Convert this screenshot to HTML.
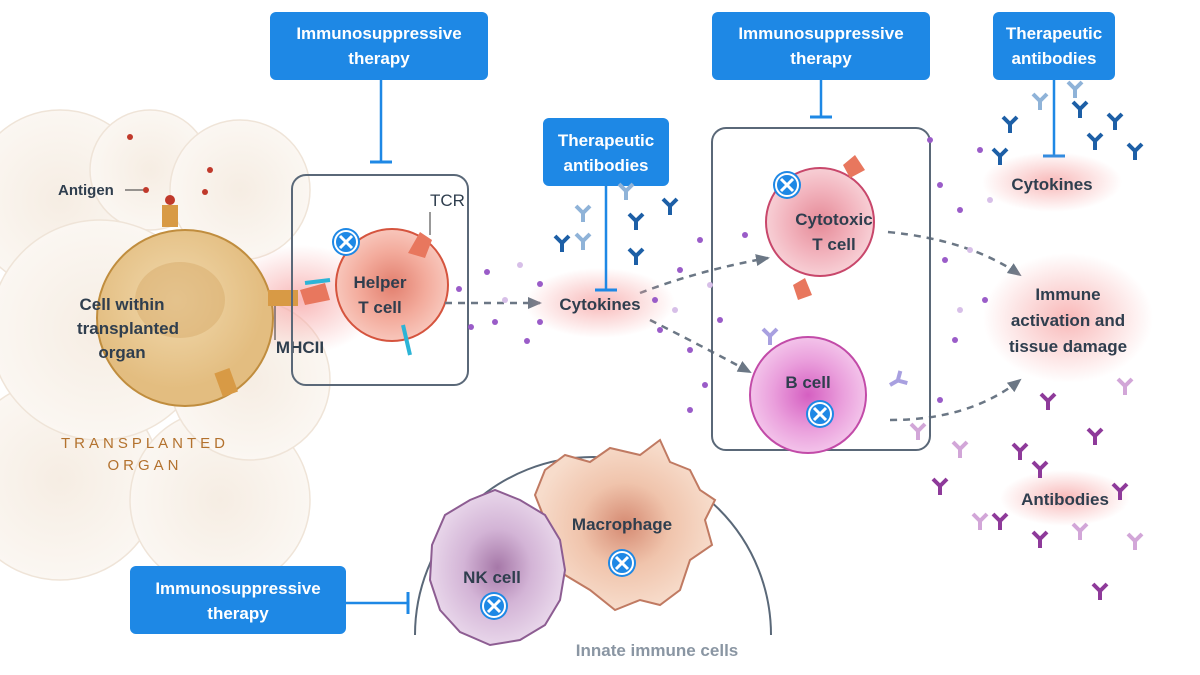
<!DOCTYPE html>
<html><head><meta charset="utf-8"><style>
html,body{margin:0;padding:0;background:#fff;}
svg{display:block;font-family:"Liberation Sans",sans-serif;}
.bt{fill:#fff;font-size:17px;font-weight:bold;text-anchor:middle;}
.lb{fill:#2f3e4e;font-size:17px;font-weight:bold;text-anchor:middle;}
</style></head><body>
<svg width="1200" height="675" viewBox="0 0 1200 675" xmlns="http://www.w3.org/2000/svg">
<defs>
<radialGradient id="glow"><stop offset="0" stop-color="#f7a7a7" stop-opacity=".8"/><stop offset="1" stop-color="#f7a7a7" stop-opacity="0"/></radialGradient>
<radialGradient id="org"><stop offset="0" stop-color="#f6ede3"/><stop offset="1" stop-color="#fbf7f2"/></radialGradient>
<radialGradient id="cell1" cx=".45" cy=".4"><stop offset="0" stop-color="#f1d9ad"/><stop offset="1" stop-color="#e3bd80"/></radialGradient>
<radialGradient id="helper" cx=".5" cy=".5"><stop offset="0" stop-color="#e27f6e"/><stop offset=".6" stop-color="#f3ab9c"/><stop offset="1" stop-color="#f8c6bb"/></radialGradient>
<radialGradient id="cyto"><stop offset="0" stop-color="#e58a97"/><stop offset=".6" stop-color="#f2b3bd"/><stop offset="1" stop-color="#f7cfd5"/></radialGradient>
<radialGradient id="bcell"><stop offset="0" stop-color="#d55fc1"/><stop offset=".6" stop-color="#ea9fdc"/><stop offset="1" stop-color="#f3c3ea"/></radialGradient>
<radialGradient id="mac"><stop offset="0" stop-color="#d58a72"/><stop offset=".5" stop-color="#f0c4ac"/><stop offset="1" stop-color="#f7dccb"/></radialGradient>
<radialGradient id="nk"><stop offset="0" stop-color="#a678a8"/><stop offset=".5" stop-color="#d3b4d6"/><stop offset="1" stop-color="#e8d6ea"/></radialGradient>
<marker id="ah" markerUnits="userSpaceOnUse" markerWidth="16" markerHeight="16" refX="12" refY="8" orient="auto"><path d="M0,2 L14,8 L0,14 Z" fill="#6b7785"/></marker>
<g id="xi"><circle r="14" fill="#1e88e5"/><circle r="11" fill="none" stroke="#fff" stroke-width="2"/><path d="M-6,-6 L6,6 M6,-6 L-6,6" stroke="#fff" stroke-width="3"/></g>
<g id="ab"><path d="M0,0 V-9 M0,-9 L-7,-16 M0,-9 L7,-16" stroke-width="4" fill="none"/></g>
</defs>

<!-- organ background -->
<g stroke="#efe4d8" stroke-width="1.5">
<circle cx="60" cy="200" r="90" fill="url(#org)"/>
<circle cx="150" cy="170" r="60" fill="url(#org)"/>
<circle cx="240" cy="190" r="70" fill="url(#org)"/>
<circle cx="60" cy="480" r="100" fill="url(#org)"/>
<circle cx="220" cy="500" r="90" fill="url(#org)"/>
<circle cx="100" cy="330" r="110" fill="url(#org)"/>
<circle cx="250" cy="380" r="80" fill="url(#org)"/>
</g>
<ellipse cx="300" cy="300" rx="80" ry="55" fill="url(#glow)"/>
<circle cx="185" cy="318" r="88" fill="url(#cell1)" stroke="#c08d3e" stroke-width="2"/>
<ellipse cx="180" cy="300" rx="45" ry="38" fill="#d8ac6b" opacity=".5"/>
<text class="lb" x="122" y="310">Cell within</text>
<text class="lb" x="128" y="334">transplanted</text>
<text class="lb" x="122" y="358">organ</text>
<text x="145" y="448" fill="#b3722e" font-size="15" letter-spacing="4" text-anchor="middle">TRANSPLANTED</text>
<text x="145" y="470" fill="#b3722e" font-size="15" letter-spacing="4" text-anchor="middle">ORGAN</text>
<text x="58" y="195" fill="#2f3e4e" font-size="15" font-weight="bold">Antigen</text>
<line x1="125" y1="190" x2="145" y2="190" stroke="#333"/><circle cx="146" cy="190" r="3" fill="#c0392b"/>
<rect x="162" y="205" width="16" height="22" fill="#d89a45"/><circle cx="170" cy="200" r="5" fill="#c0392b"/>
<rect x="218" y="370" width="16" height="25" fill="#d89a45" transform="rotate(-20 226 382)"/>
<rect x="268" y="290" width="30" height="16" fill="#d89a45"/>
<line x1="275" y1="306" x2="275" y2="340" stroke="#333"/>
<text x="300" y="353" fill="#2f3e4e" font-size="17" font-weight="bold" text-anchor="middle">MHCII</text>
<circle cx="130" cy="137" r="3" fill="#c0392b"/><circle cx="210" cy="170" r="3" fill="#c0392b"/><circle cx="205" cy="192" r="3" fill="#c0392b"/>

<!-- box 1 -->
<rect x="270" y="12" width="218" height="68" rx="6" fill="#1e88e5"/>
<text class="bt" x="379" y="39">Immunosuppressive</text><text class="bt" x="379" y="64">therapy</text>
<line x1="381" y1="80" x2="381" y2="162" stroke="#1e88e5" stroke-width="2.5"/><line x1="370" y1="162" x2="392" y2="162" stroke="#1e88e5" stroke-width="3"/>
<rect x="292" y="175" width="176" height="210" rx="14" fill="none" stroke="#5a6878" stroke-width="2"/>
<circle cx="392" cy="285" r="56" fill="url(#helper)" stroke="#d5543e" stroke-width="2"/>
<text class="lb" x="380" y="288">Helper</text><text class="lb" x="380" y="313">T cell</text>
<use href="#xi" x="346" y="242"/>
<text x="430" y="206" fill="#2f3e4e" font-size="17">TCR</text>
<line x1="430" y1="212" x2="430" y2="235" stroke="#333"/>
<path d="M408,253 L420,232 L432,240 L425,258 Z" fill="#e8775e"/>
<path d="M300,290 L325,283 L330,300 L305,305 Z" fill="#e8775e"/>
<path d="M403,325 L410,355" stroke="#2db4d6" stroke-width="4"/>
<path d="M305,283 L330,280" stroke="#2db4d6" stroke-width="4"/>

<!-- arrows -->
<g stroke="#6b7785" stroke-width="2.5" stroke-dasharray="7 6" fill="none" marker-end="url(#ah)">
<line x1="445" y1="303" x2="540" y2="303"/>
<path d="M640,293 Q700,270 768,258"/>
<path d="M650,320 Q700,345 750,372"/>
<path d="M888,232 Q970,240 1020,275"/>
<path d="M890,420 Q970,420 1020,380"/>
</g>

<!-- cytokines 1 -->
<ellipse cx="600" cy="303" rx="75" ry="35" fill="url(#glow)"/>
<text class="lb" x="600" y="310">Cytokines</text>
<rect x="543" y="118" width="126" height="68" rx="6" fill="#1e88e5"/>
<text class="bt" x="606" y="146">Therapeutic</text><text class="bt" x="606" y="171">antibodies</text>
<line x1="606" y1="186" x2="606" y2="290" stroke="#1e88e5" stroke-width="2.5"/><line x1="595" y1="290" x2="617" y2="290" stroke="#1e88e5" stroke-width="3"/>
<g stroke="#1d5fa6"><use href="#ab" x="562" y="252"/><use href="#ab" x="636" y="230"/><use href="#ab" x="636" y="265"/><use href="#ab" x="670" y="215"/></g>
<g stroke="#8fb3d8"><use href="#ab" x="583" y="222"/><use href="#ab" x="583" y="250"/><use href="#ab" x="626" y="200"/></g>

<!-- box 2 -->
<rect x="712" y="12" width="218" height="68" rx="6" fill="#1e88e5"/>
<text class="bt" x="821" y="39">Immunosuppressive</text><text class="bt" x="821" y="64">therapy</text>
<line x1="821" y1="80" x2="821" y2="117" stroke="#1e88e5" stroke-width="2.5"/><line x1="810" y1="117" x2="832" y2="117" stroke="#1e88e5" stroke-width="3"/>
<rect x="712" y="128" width="218" height="322" rx="14" fill="none" stroke="#5a6878" stroke-width="2"/>
<circle cx="820" cy="222" r="54" fill="url(#cyto)" stroke="#c8476b" stroke-width="2"/>
<text class="lb" x="834" y="225">Cytotoxic</text><text class="lb" x="834" y="250">T cell</text>
<use href="#xi" x="787" y="185"/>
<path d="M843,165 L855,155 L865,170 L850,178 Z" fill="#e8775e"/>
<path d="M793,285 L805,278 L812,295 L798,300 Z" fill="#e8775e"/>
<circle cx="808" cy="395" r="58" fill="url(#bcell)" stroke="#c24ba8" stroke-width="2"/>
<text class="lb" x="808" y="388">B cell</text>
<use href="#xi" x="820" y="414"/>
<g stroke="#a8a0e0"><use href="#ab" x="770" y="345"/><use href="#ab" x="890" y="385" transform="rotate(60 890 385)"/></g>

<!-- right side -->
<rect x="993" y="12" width="122" height="68" rx="6" fill="#1e88e5"/>
<text class="bt" x="1054" y="39">Therapeutic</text><text class="bt" x="1054" y="64">antibodies</text>
<line x1="1054" y1="80" x2="1054" y2="156" stroke="#1e88e5" stroke-width="2.5"/><line x1="1043" y1="156" x2="1065" y2="156" stroke="#1e88e5" stroke-width="3"/>
<ellipse cx="1052" cy="182" rx="70" ry="30" fill="url(#glow)"/>
<text class="lb" x="1052" y="190">Cytokines</text>
<g stroke="#1d5fa6"><use href="#ab" x="1010" y="133"/><use href="#ab" x="1000" y="165"/><use href="#ab" x="1080" y="118"/><use href="#ab" x="1115" y="130"/><use href="#ab" x="1135" y="160"/><use href="#ab" x="1095" y="150"/></g>
<g stroke="#8fb3d8"><use href="#ab" x="1040" y="110"/><use href="#ab" x="1075" y="98"/></g>
<ellipse cx="1068" cy="318" rx="85" ry="65" fill="url(#glow)"/>
<text class="lb" x="1068" y="300">Immune</text><text class="lb" x="1068" y="326">activation and</text><text class="lb" x="1068" y="352">tissue damage</text>
<ellipse cx="1065" cy="498" rx="65" ry="28" fill="url(#glow)"/>
<text class="lb" x="1065" y="505">Antibodies</text>
<g stroke="#8e3a9a"><use href="#ab" x="1048" y="410"/><use href="#ab" x="1095" y="445"/><use href="#ab" x="1020" y="460"/><use href="#ab" x="1040" y="478"/><use href="#ab" x="940" y="495"/><use href="#ab" x="1000" y="530"/><use href="#ab" x="1040" y="548"/><use href="#ab" x="1120" y="500"/><use href="#ab" x="1100" y="600"/></g>
<g stroke="#d2a6d8"><use href="#ab" x="960" y="458"/><use href="#ab" x="980" y="530"/><use href="#ab" x="1080" y="540"/><use href="#ab" x="1135" y="550"/><use href="#ab" x="1125" y="395"/><use href="#ab" x="918" y="440"/></g>

<!-- dots -->
<g fill="#9a5cc8">
<circle cx="487" cy="272" r="3"/><circle cx="459" cy="289" r="3"/><circle cx="471" cy="327" r="3"/><circle cx="495" cy="322" r="3"/><circle cx="540" cy="284" r="3"/><circle cx="540" cy="322" r="3"/><circle cx="527" cy="341" r="3"/>
<circle cx="655" cy="300" r="3"/><circle cx="660" cy="330" r="3"/><circle cx="680" cy="270" r="3"/><circle cx="690" cy="350" r="3"/><circle cx="700" cy="240" r="3"/><circle cx="720" cy="320" r="3"/><circle cx="745" cy="235" r="3"/><circle cx="705" cy="385" r="3"/><circle cx="690" cy="410" r="3"/>
<circle cx="940" cy="185" r="3"/><circle cx="960" cy="210" r="3"/><circle cx="945" cy="260" r="3"/><circle cx="980" cy="150" r="3"/><circle cx="985" cy="300" r="3"/><circle cx="955" cy="340" r="3"/><circle cx="940" cy="400" r="3"/><circle cx="930" cy="140" r="3"/>
</g>
<g fill="#d7bfe8">
<circle cx="505" cy="300" r="3"/><circle cx="520" cy="265" r="3"/><circle cx="675" cy="310" r="3"/><circle cx="710" cy="285" r="3"/><circle cx="970" cy="250" r="3"/><circle cx="960" cy="310" r="3"/><circle cx="990" cy="200" r="3"/>
</g>

<!-- innate -->
<path d="M415,675 A178,178 0 0 1 771,675" fill="none" stroke="#5a6878" stroke-width="2" transform="translate(0,-40)"/>
<path d="M545,470 L565,455 L590,462 L610,448 L640,455 L660,440 L670,462 L690,470 L700,490 L715,500 L705,520 L712,545 L690,560 L680,590 L660,605 L640,600 L615,610 L590,590 L565,575 L550,550 L545,520 L535,495 Z" fill="url(#mac)" stroke="#c07a62" stroke-width="2"/>
<text class="lb" x="622" y="530">Macrophage</text>
<use href="#xi" x="622" y="563"/>
<path d="M445,515 L470,500 L495,490 L520,500 L545,515 L560,540 L565,570 L560,600 L545,625 L520,640 L490,645 L460,632 L440,610 L430,580 L432,545 Z" fill="url(#nk)" stroke="#8d5d92" stroke-width="2"/>
<text class="lb" x="492" y="583">NK cell</text>
<use href="#xi" x="494" y="606"/>
<text x="657" y="656" fill="#8a96a3" font-size="17" font-weight="bold" text-anchor="middle">Innate immune cells</text>
<rect x="130" y="566" width="216" height="68" rx="6" fill="#1e88e5"/>
<text class="bt" x="238" y="594">Immunosuppressive</text><text class="bt" x="238" y="619">therapy</text>
<line x1="346" y1="603" x2="408" y2="603" stroke="#1e88e5" stroke-width="2.5"/><line x1="408" y1="592" x2="408" y2="614" stroke="#1e88e5" stroke-width="3"/>
</svg>
</body></html>
